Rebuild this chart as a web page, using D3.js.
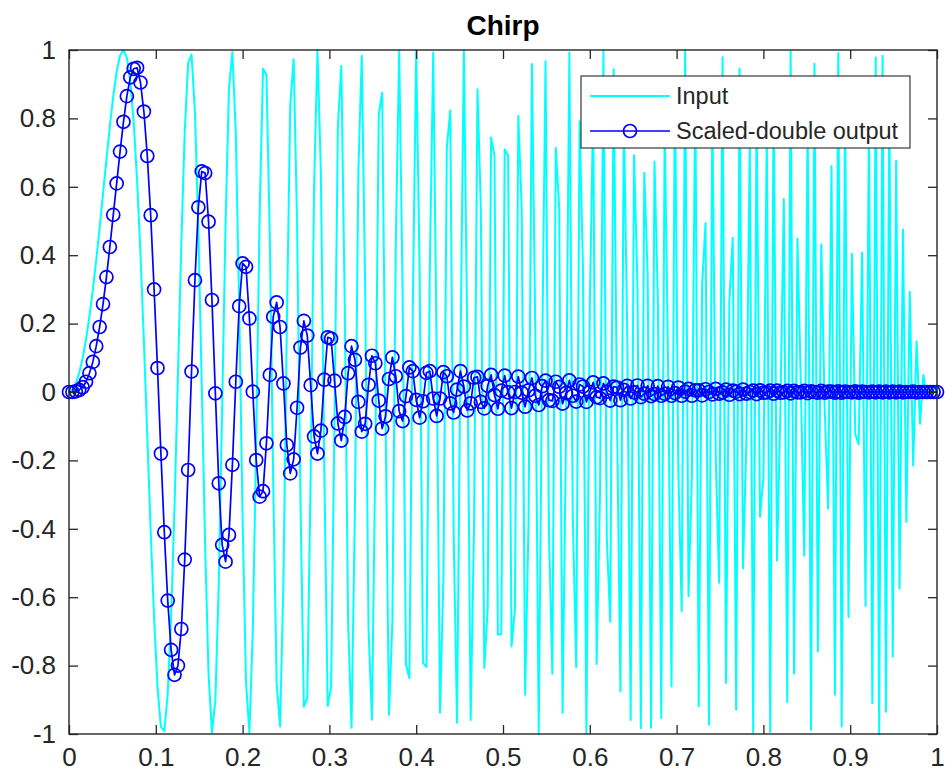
<!DOCTYPE html>
<html>
<head>
<meta charset="utf-8">
<script src="https://cdn.jsdelivr.net/npm/d3@7"></script>
<style>
  html, body { margin: 0; padding: 0; background: #fff; }
  svg { display: block; }
  text { font-family: "Liberation Sans", Arial, Helvetica, sans-serif; }
</style>
</head>
<body>
<svg id="chart" width="945" height="776"></svg>
<script>
// ---- data ----
const titleText = "Chirp";
const legendLabels = ["Input", "Scaled-double output"];
const xTickValues = [0, 0.1, 0.2, 0.3, 0.4, 0.5, 0.6, 0.7, 0.8, 0.9, 1];
const yTickValues = [-1, -0.8, -0.6, -0.4, -0.2, 0, 0.2, 0.4, 0.6, 0.8, 1];

// input chirp samples (256 samples spanning t = 0 .. 1)
const inputSignal = [
0,0.006,0.025,0.056,0.099,0.154,0.221,0.298,0.386,0.48,
0.58,0.68,0.777,0.865,0.937,0.984,1,0.977,0.908,0.789,
0.62,0.403,0.148,-0.129,-0.408,-0.662,-0.862,-0.979,-0.991,-0.883,
-0.658,-0.335,0.049,0.436,0.762,0.962,0.987,0.819,0.475,0.019,
-0.453,-0.825,-0.996,-0.901,-0.56,-0.043,0.496,0.889,0.994,0.758,
0.245,-0.368,-0.849,-0.996,-0.696,-0.142,0.517,0.946,0.928,0.448,
-0.268,-0.852,-0.978,-0.555,0.196,0.839,0.973,0.492,-0.316,-0.92,
-0.893,-0.24,0.599,1,0.639,-0.226,-0.918,-0.863,-0.075,0.781,
0.953,0.264,-0.675,-0.982,-0.342,0.643,0.983,0.311,-0.693,-0.958,
-0.173,0.811,0.875,-0.08,-0.944,-0.671,0.43,0.998,0.295,-0.796,
-0.837,0.25,0.998,0.359,-0.792,-0.804,0.362,0.993,0.124,-0.938,
-0.541,0.715,0.823,-0.413,-0.967,0.104,0.999,0.167,-0.959,-0.383,
0.885,0.535,-0.807,-0.635,0.744,0.691,-0.71,-0.708,0.71,0.691,
-0.744,-0.635,0.807,0.535,-0.885,-0.382,0.959,0.168,-0.999,0.103,
0.967,-0.412,-0.824,0.714,0.541,-0.938,-0.125,0.993,-0.361,-0.805,
0.792,0.36,-0.998,0.249,0.837,-0.795,-0.296,0.998,-0.429,-0.672,
0.944,-0.078,-0.876,0.81,0.175,-0.959,0.692,0.313,-0.983,0.641,
0.342,-0.982,0.674,0.265,-0.953,0.779,0.077,-0.861,0.917,-0.224,
-0.641,0.999,-0.597,-0.242,0.898,-0.919,0.313,0.494,-0.973,0.837,
-0.193,-0.558,0.979,-0.851,0.265,0.451,-0.929,0.946,-0.515,-0.145,
0.731,-0.996,0.847,-0.365,-0.249,0.761,-0.994,0.887,-0.493,-0.047,
0.564,-0.907,0.996,-0.823,0.449,0.023,-0.479,0.821,-0.988,0.96,
-0.759,0.432,-0.045,-0.341,0.661,-0.885,0.991,-0.978,0.859,-0.658,
0.404,-0.124,-0.153,0.408,-0.626,0.793,-0.91,0.978,-1,0.983,
-0.935,0.862,-0.774,0.676,-0.575,0.475,-0.38,0.293,-0.215,0.148,
-0.093,0.05,-0.019,-0.003,0.012,0
];

// scaled-double filter output, one value per input sample
const outputSignal = [
0,0,0.002,0.006,0.014,0.03,0.055,0.088,0.134,0.19,
0.257,0.336,0.424,0.518,0.61,0.703,0.79,0.865,0.92,0.945,
0.948,0.905,0.82,0.69,0.517,0.3,0.07,-0.18,-0.41,-0.61,
-0.754,-0.827,-0.8,-0.693,-0.49,-0.228,0.06,0.327,0.54,0.645,
0.64,0.498,0.269,-0.004,-0.267,-0.447,-0.496,-0.418,-0.213,0.03,
0.251,0.376,0.366,0.215,0.001,-0.199,-0.306,-0.29,-0.15,0.05,
0.22,0.262,0.19,0.025,-0.155,-0.238,-0.197,-0.046,0.13,0.208,
0.165,0.02,-0.13,-0.18,-0.113,0.036,0.16,0.156,0.033,-0.092,
-0.142,-0.073,0.055,0.134,0.094,-0.029,-0.116,-0.093,0.021,0.106,
0.084,-0.025,-0.107,-0.071,0.038,0.101,0.046,-0.056,-0.085,-0.012,
0.072,0.061,-0.023,-0.075,-0.027,0.056,0.061,-0.019,-0.07,-0.019,
0.058,0.046,-0.033,-0.06,0.007,0.061,0.016,-0.054,-0.033,0.042,
0.044,-0.029,-0.048,0.018,0.05,-0.009,-0.049,0.004,0.048,-0.001,
-0.047,0,0.045,-0.002,-0.043,0.005,0.041,-0.011,-0.038,0.017,
0.033,-0.024,-0.026,0.03,0.015,-0.034,-0.003,0.034,-0.011,-0.028,
0.022,0.016,-0.029,0,0.028,-0.015,-0.018,0.025,0.001,-0.025,
0.016,0.013,-0.024,0.006,0.018,-0.019,-0.001,0.019,-0.015,-0.005,
0.018,-0.012,-0.006,0.017,-0.011,-0.005,0.015,-0.011,-0.003,0.013,
-0.011,0.001,0.009,-0.011,0.005,0.005,-0.01,0.008,0,-0.007,
0.009,-0.005,-0.001,0.007,-0.008,0.004,0.001,-0.006,0.007,-0.005,
0,0.004,-0.006,0.005,-0.002,-0.001,0.004,-0.005,0.004,-0.002,
-0.001,0.003,-0.004,0.003,-0.001,-0.001,0.003,-0.003,0.002,0,
-0.002,0.003,-0.002,0.001,0.001,-0.002,0.002,-0.002,0.001,0,
-0.001,0.002,-0.002,0.001,0,-0.001,0.001,-0.001,0.001,-0.001,
0.001,-0.001,0.001,-0.001,0.001,-0.001,0,0,0.001,-0.001,
0,0,0,0,0,0
];

// ---- layout ----
const svg = d3.select("#chart");
const plot = { left: 69, right: 937, top: 50, bottom: 734 };
const axisColor = "#262626";
const tickFont = 26;
const legendFont = 23.5;

const x = d3.scaleLinear().domain([0, 1]).range([plot.left, plot.right]);
const y = d3.scaleLinear().domain([-1, 1]).range([plot.bottom, plot.top]);
const lastIndex = inputSignal.length - 1;
const tOf = i => i / lastIndex;

const fmt = v => {
  const s = d3.format("~g")(Math.round(v * 10) / 10);
  return s.replace("\u2212", "-");
};

// ---- series ----
const lineGen = d3.line().x((d, i) => x(tOf(i))).y(d => y(d));

svg.append("path")
  .datum(inputSignal)
  .attr("d", lineGen)
  .attr("fill", "none")
  .attr("stroke", "#00ffff")
  .attr("stroke-width", 2)
  .attr("stroke-linejoin", "round");

svg.append("path")
  .datum(outputSignal)
  .attr("d", lineGen)
  .attr("fill", "none")
  .attr("stroke", "#0000ff")
  .attr("stroke-width", 1.7)
  .attr("stroke-linejoin", "round");

svg.append("g")
  .selectAll("circle")
  .data(outputSignal)
  .join("circle")
  .attr("cx", (d, i) => x(tOf(i)))
  .attr("cy", d => y(d))
  .attr("r", 6.5)
  .attr("fill", "none")
  .attr("stroke", "#0000ff")
  .attr("stroke-width", 1.7);

// ---- axes ----
function styleAxis(g, showLabels) {
  g.select(".domain").remove();
  g.selectAll(".tick line").attr("stroke", axisColor).attr("stroke-width", 1.3);
  if (showLabels) {
    g.selectAll(".tick text")
      .attr("fill", axisColor)
      .style("font-size", tickFont + "px")
      .style("font-family", '"Liberation Sans", Arial, sans-serif');
  } else {
    g.selectAll(".tick text").remove();
  }
}

svg.append("g")
  .attr("transform", `translate(0,${plot.bottom})`)
  .call(d3.axisBottom(x).tickValues(xTickValues).tickFormat(fmt).tickSize(-9).tickPadding(14))
  .call(g => styleAxis(g, true));

svg.append("g")
  .attr("transform", `translate(0,${plot.top})`)
  .call(d3.axisTop(x).tickValues(xTickValues).tickSize(-9))
  .call(g => styleAxis(g, false));

svg.append("g")
  .attr("transform", `translate(${plot.left},0)`)
  .call(d3.axisLeft(y).tickValues(yTickValues).tickFormat(fmt).tickSize(-9).tickPadding(13))
  .call(g => styleAxis(g, true));

svg.append("g")
  .attr("transform", `translate(${plot.right},0)`)
  .call(d3.axisRight(y).tickValues(yTickValues).tickSize(-9))
  .call(g => styleAxis(g, false));

svg.append("rect")
  .attr("x", plot.left).attr("y", plot.top)
  .attr("width", plot.right - plot.left).attr("height", plot.bottom - plot.top)
  .attr("fill", "none").attr("stroke", axisColor).attr("stroke-width", 1.4);

// ---- title ----
svg.append("text")
  .attr("x", (plot.left + plot.right) / 2)
  .attr("y", 35)
  .attr("text-anchor", "middle")
  .attr("fill", "#000")
  .style("font-size", "28px")
  .style("font-weight", "bold")
  .text(titleText);

// ---- legend ----
const lg = svg.append("g").attr("transform", "translate(581,76)");
lg.append("rect")
  .attr("width", 329).attr("height", 72)
  .attr("fill", "#fff").attr("stroke", axisColor).attr("stroke-width", 1.1);

const rows = [
  { label: legendLabels[0], color: "#00ffff", width: 2, marker: false, y: 20 },
  { label: legendLabels[1], color: "#0000ff", width: 1.7, marker: true, y: 55 }
];
rows.forEach(r => {
  lg.append("line")
    .attr("x1", 9).attr("x2", 89).attr("y1", r.y).attr("y2", r.y)
    .attr("stroke", r.color).attr("stroke-width", r.width);
  if (r.marker) {
    lg.append("circle").attr("cx", 49).attr("cy", r.y).attr("r", 6.5)
      .attr("fill", "none").attr("stroke", r.color).attr("stroke-width", 1.7);
  }
  lg.append("text")
    .attr("x", 95).attr("y", r.y)
    .attr("dy", "0.35em")
    .attr("fill", axisColor)
    .style("font-size", legendFont + "px")
    .text(r.label);
});
</script>
</body>
</html>
